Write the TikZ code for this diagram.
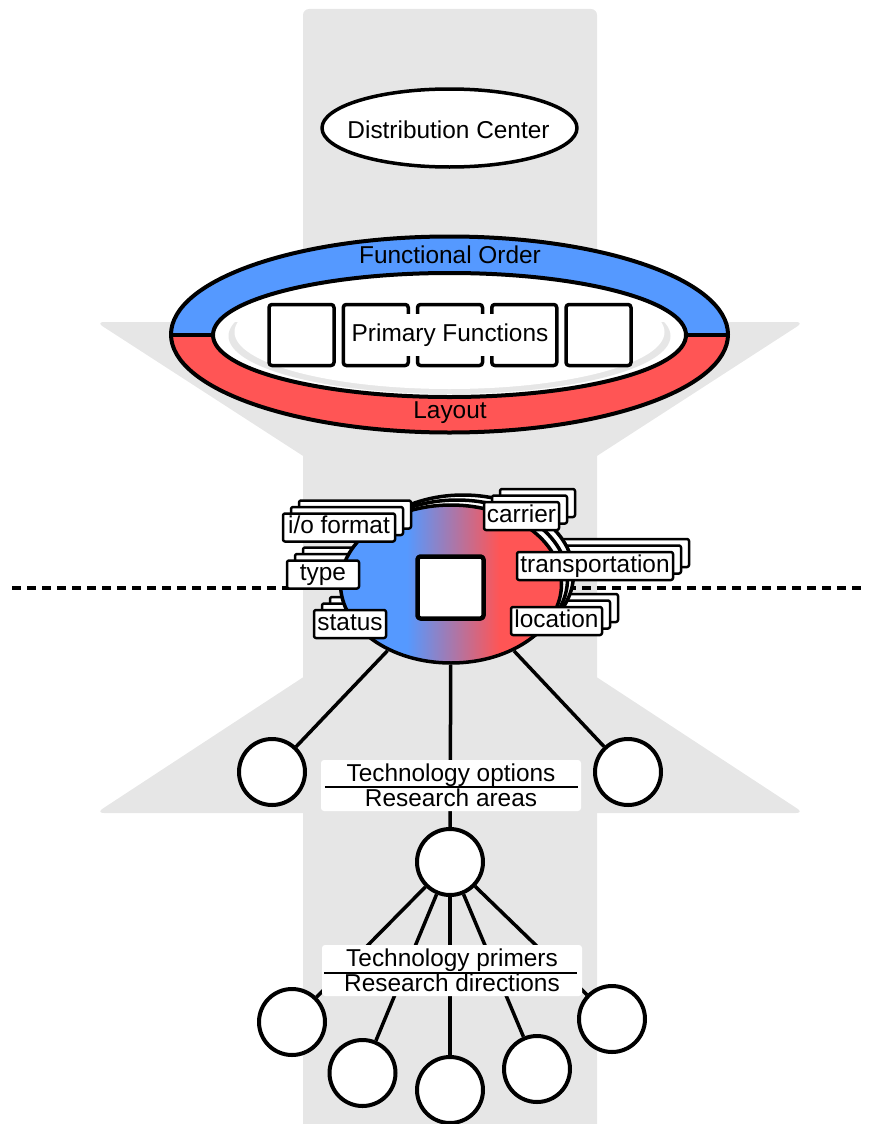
\documentclass[tikz,border=0pt]{standalone}
\usepackage{fontspec}
\setmainfont{Liberation Sans}
\usetikzlibrary{shapes.geometric}
\definecolor{bandgray}{HTML}{E6E6E6}
\definecolor{ringblue}{HTML}{5599FF}
\definecolor{ringred}{HTML}{FF5555}
% the path's bounding box is mapped onto the central 25bp--75bp of the shading
\pgfdeclarehorizontalshading{bluered}{100bp}{color(0bp)=(ringblue); color(40bp)=(ringblue); color(61bp)=(ringred); color(100bp)=(ringred)}

% stacked cards behind a tag: #1,#2 centre of the front card, #3 width, #4 height
\newcommand\cardstack[4]{%
  \foreach \k in {2,1} {
    \draw[tagback] ({#1-#3/2+8*\k},{#2-#4/2-6.5*\k}) rectangle ++(#3,#4);
  }}

\begin{document}
\begin{tikzpicture}[x=1pt,y=-1pt,
  font=\fontsize{24.4}{25}\selectfont, line join=round,
  tag/.style={draw, fill=white, line width=2.5pt, rounded corners=2pt,
    inner xsep=0pt, inner ysep=3pt, text height=17pt, text depth=5pt},
  tagback/.style={draw, fill=white, line width=2.5pt, rounded corners=2pt},
  fbox/.style={draw, fill=white, line width=3.5pt, rounded corners=3pt,
    minimum width=65pt, minimum height=61pt, inner sep=0pt},
  leaf/.style={circle, draw, fill=white, line width=4pt, minimum size=66pt, inner sep=0pt},
  branch/.style={line width=3.5pt},
  caption/.style={fill=white, rounded corners=3pt, minimum width=260pt,
    minimum height=51pt, inner sep=0pt, align=center},
  rule/.style={line width=2.5pt},
  hubcopy/.style={draw, fill=white, line width=3.5pt},
  separator/.style={line width=3.5pt, dash pattern=on 9pt off 6pt}]

\useasboundingbox (0,0) rectangle (869,1124);

% grey band with the two arrowheads
\fill[bandgray, rounded corners=6pt] (303,9) -- (597,9) -- (597,1140) -- (303,1140) -- cycle;
\fill[bandgray, rounded corners=8pt] (96,322) -- (804,322) -- (450,551) -- cycle;
\fill[bandgray, rounded corners=8pt] (96,813) -- (804,813) -- (450,581) -- cycle;

% horizontal separator
\coordinate (sepL) at (12,588);
\coordinate (sepR) at (862,588);
\draw[separator] (sepL) -- (sepR);

% distribution centre
\node[ellipse, draw, fill=white, line width=3.5pt, minimum width=255pt,
  minimum height=78pt, inner sep=0pt] (dc) at (449.5,128) {};
\node[anchor=base] (dclabel) at (448.5,138.5) {Distribution Center};

% ring: functional order (top) and layout (bottom)
\begin{scope}
  \clip (0,0) rectangle (869,335);
  \fill[ringblue] (449.5,334.5) ellipse [x radius=278.5pt, y radius=98pt];
\end{scope}
\begin{scope}
  \clip (0,335) rectangle (869,1124);
  \fill[ringred] (449.5,334.5) ellipse [x radius=278.5pt, y radius=98pt];
\end{scope}
\fill[white] (449.5,335) ellipse [x radius=236.5pt, y radius=62pt];
\begin{scope}
  \clip (0,322) rectangle (869,1124);
  \fill[bandgray] (449.5,336) ellipse [x radius=221pt, y radius=58pt];
  \fill[white] (449.5,332) ellipse [x radius=215pt, y radius=57pt];
\end{scope}
\draw[line width=4pt] (449.5,334.5) ellipse [x radius=278.5pt, y radius=98pt];
\draw[line width=4pt] (449.5,335) ellipse [x radius=236.5pt, y radius=62pt];
\draw[line width=4pt] (171,335) -- (213,335);
\draw[line width=4pt] (686,335) -- (728,335);
\node[anchor=base] (fo) at (450,263) {Functional Order};
\node[anchor=base] (lay) at (450,418) {Layout};

% primary functions
\foreach \i [count=\n] in {-2,...,2}
  \node[fbox] (f\n) at ({450+74.25*\i},335) {};
\node[fill=white, inner xsep=4pt, inner ysep=0pt, minimum height=42pt] (pf) at (450,335) {Primary Functions};

% cards lying behind the hub
\cardstack{323}{574.5}{72}{28}
\cardstack{350}{624}{72}{28}
\cardstack{595}{566}{156}{28}
\cardstack{556.5}{621}{91}{28}

% hub with its stacked copies
\draw[hubcopy] (463,574) ellipse [x radius=110.5pt, y radius=79pt];
\draw[hubcopy] (457,579) ellipse [x radius=110.5pt, y radius=79pt];
\node[ellipse, draw, line width=3.5pt, shade, shading=bluered,
  minimum width=221pt, minimum height=158pt, inner sep=0pt] (hub) at (451,584) {};
\node[draw, fill=white, line width=4.5pt, rounded corners=3pt,
  minimum width=66pt, minimum height=62pt, inner sep=0pt] (core) at (450.5,587.5) {};

% cards lying over the hub
\cardstack{339}{527.5}{112}{28}
\cardstack{521.5}{516}{75}{28}

% front tags
\node[tag, minimum width=112pt] (iof) at (339,527.5) {i/o format};
\node[tag, minimum width=72pt] (type) at (323,574.5) {type};
\node[tag, minimum width=72pt] (status) at (350,624) {status};
\node[tag, minimum width=75pt] (carrier) at (521.5,516) {carrier};
\node[tag, minimum width=156pt] (transp) at (595,566) {transportation};
\node[tag, minimum width=91pt] (loc) at (556.5,621) {location};

% first level: technology options / research areas
\node[leaf] (l1) at (272,772) {};
\node[leaf] (r1) at (628,772) {};
\node[leaf] (m) at (450,862) {};
\draw[branch] (hub) -- (l1);
\draw[branch] (hub) -- (r1);
\draw[branch] (hub) -- (m);
\node[caption] (opts) at (451,785.5) {Technology options\\Research areas};
\draw[rule] ([xshift=4pt,yshift=-1.5pt]opts.west) -- ([xshift=-3pt,yshift=-1.5pt]opts.east);

% second level: technology primers / research directions
\node[leaf] (c1) at (292,1022) {};
\node[leaf] (c2) at (362.5,1073) {};
\node[leaf] (c3) at (450,1090) {};
\node[leaf] (c4) at (537,1069) {};
\node[leaf] (c5) at (612,1019) {};
\foreach \c in {c1,c2,c3,c4,c5}
  \draw[branch] (m) -- (\c);
\node[caption] (prim) at (452,970.5) {Technology primers\\Research directions};
\draw[rule] ([xshift=2pt,yshift=-2.5pt]prim.west) -- ([xshift=-5pt,yshift=-2.5pt]prim.east);

\end{tikzpicture}
\end{document}
